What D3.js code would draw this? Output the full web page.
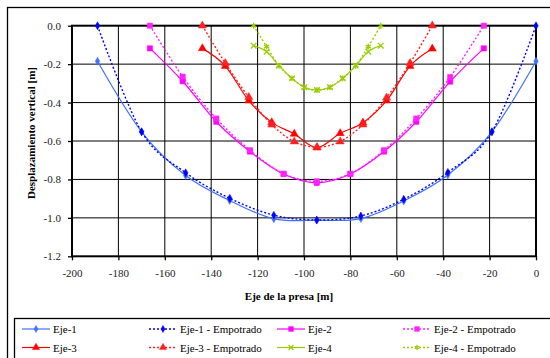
<!DOCTYPE html>
<html><head><meta charset="utf-8">
<script src="https://cdn.jsdelivr.net/npm/d3@7"></script>
<style>
html,body{margin:0;padding:0;background:#fff;}
svg{display:block;}
</style></head>
<body><svg id="c" width="550" height="358"></svg>
<script>
// ---- data ----
const xTicks = [-200,-180,-160,-140,-120,-100,-80,-60,-40,-20,0];
const yTicks = [0.0,-0.2,-0.4,-0.6,-0.8,-1.0,-1.2];
const seriesNames = ["Eje-1","Eje-1 - Empotrado","Eje-2","Eje-2 - Empotrado","Eje-3","Eje-3 - Empotrado","Eje-4","Eje-4 - Empotrado"];
const xEje1 = [-189,-170,-151,-132,-113,-94.5,-75.5,-57,-38,-19,0];
const yEje1 = [-0.185,-0.552,-0.78,-0.91,-1.005,-1.012,-1.004,-0.912,-0.777,-0.552,-0.185];
const yEje1Emp = [0,-0.552,-0.765,-0.898,-0.986,-1.011,-0.99,-0.903,-0.763,-0.552,0];
const xEje2 = [-166.4,-152.3,-137.8,-123.3,-108.8,-94.5,-80,-65.5,-51.6,-37,-22.5];
const yEje2 = [-0.118,-0.289,-0.5,-0.655,-0.772,-0.818,-0.772,-0.655,-0.5,-0.291,-0.118];
const yEje2Emp = [0,-0.265,-0.483,-0.648,-0.77,-0.81,-0.77,-0.648,-0.483,-0.267,0];
const xEje3 = [-143.8,-133.9,-123.8,-113.9,-104.2,-94.4,-84.4,-74.6,-64.4,-54.3,-44.7];
const yEje3 = [-0.118,-0.21,-0.39,-0.503,-0.563,-0.635,-0.56,-0.505,-0.39,-0.21,-0.12];
const yEje3Emp = [0,-0.195,-0.372,-0.515,-0.603,-0.632,-0.603,-0.515,-0.375,-0.195,0];
const xEje4 = [-121.7,-116.1,-110.8,-105.2,-99.9,-94.4,-88.8,-83.3,-77.7,-72.3,-66.9];
const yEje4 = [-0.104,-0.135,-0.208,-0.274,-0.32,-0.335,-0.32,-0.274,-0.208,-0.135,-0.104];
const yEje4Emp = [0,-0.109,-0.208,-0.274,-0.32,-0.335,-0.32,-0.274,-0.208,-0.109,0];

const FONT = "Liberation Serif";
const series = [
  {name:seriesNames[0], xs:xEje1, ys:yEje1,    color:"#3f72ff", dash:null,  sym:d3.symbolDiamond,  size:18, fill:true},
  {name:seriesNames[1], xs:xEje1, ys:yEje1Emp, color:"#0000ff", dash:"2,2", sym:d3.symbolDiamond,  size:18, fill:true},
  {name:seriesNames[2], xs:xEje2, ys:yEje2,    color:"#ff00ff", dash:null,  sym:d3.symbolSquare,   size:28, fill:true},
  {name:seriesNames[3], xs:xEje2, ys:yEje2Emp, color:"#ff22ff", dash:"2,2", sym:d3.symbolSquare,   size:28, fill:true},
  {name:seriesNames[4], xs:xEje3, ys:yEje3,    color:"#ff0000", dash:null,  sym:d3.symbolTriangle, size:28, fill:true},
  {name:seriesNames[5], xs:xEje3, ys:yEje3Emp, color:"#ff2020", dash:"2,2", sym:d3.symbolTriangle, size:28, fill:true},
  {name:seriesNames[6], xs:xEje4, ys:yEje4,    color:"#99cc00", dash:null,  sym:d3.symbolX,        size:22, fill:false},
  {name:seriesNames[7], xs:xEje4, ys:yEje4Emp, color:"#99cc00", dash:"2,2", sym:d3.symbolAsterisk, size:24, fill:false}
];

const svg = d3.select("#c");
const L = 72, R = 536, T = 25.7, B = 256.3;
const x = d3.scaleLinear().domain([-200,0]).range([L,R]);
const y = d3.scaleLinear().domain([-1.2,0]).range([B,T]);

// outer frame
svg.append("rect").attr("x",7.5).attr("y",7.5).attr("width",600).attr("height",400)
  .attr("fill","#fff").attr("stroke","#000").attr("stroke-width",1.3);

// gridlines
const g = svg.append("g");
g.selectAll("line.vx").data(xTicks.slice(1,-1)).join("line")
  .attr("x1",d=>x(d)).attr("x2",d=>x(d)).attr("y1",T).attr("y2",B)
  .attr("stroke","#000").attr("stroke-width",1);
g.selectAll("line.hy").data(yTicks.slice(1,-1)).join("line")
  .attr("y1",d=>y(d)).attr("y2",d=>y(d)).attr("x1",L).attr("x2",R)
  .attr("stroke","#000").attr("stroke-width",1);

// axes
const xAxis = d3.axisBottom(x).tickValues(xTicks).tickSize(4).tickPadding(9).tickFormat(d=>String(d));
const yAxis = d3.axisLeft(y).tickValues(yTicks).tickSize(4).tickPadding(7).tickFormat(d=>d.toFixed(1));
const gx = svg.append("g").attr("transform",`translate(0,${B})`).call(xAxis);
const gy = svg.append("g").attr("transform",`translate(${L},0)`).call(yAxis);
[gx,gy].forEach(a=>{
  a.select(".domain").remove();
  a.selectAll("line").attr("stroke","#000").attr("stroke-width",1.3);
  a.selectAll("text").style("font-family",FONT).style("font-size","11px").attr("fill","#222");
});

// plot border
svg.append("rect").attr("x",L).attr("y",T).attr("width",R-L).attr("height",B-T)
  .attr("fill","none").attr("stroke","#000").attr("stroke-width",2);

// series
const line = d3.line().curve(d3.curveCatmullRom.alpha(0)).x(d=>x(d[0])).y(d=>y(d[1]));
series.forEach(s=>{
  const pts = s.xs.map((v,i)=>[v,s.ys[i]]);
  svg.append("path").datum(pts).attr("d",line).attr("fill","none")
    .attr("stroke",s.color).attr("stroke-width",s.dash?1.4:1.2)
    .attr("stroke-dasharray",s.dash);
  svg.append("g").selectAll("path").data(pts).join("path")
    .attr("transform",d=>`translate(${x(d[0])},${y(d[1])})`)
    .attr("d",d3.symbol(s.sym,s.size))
    .attr("fill",s.fill?s.color:"none").attr("stroke",s.color).attr("stroke-width",s.fill?0.5:1.3);
});

// axis titles
svg.append("text").attr("x",289).attr("y",300).attr("text-anchor","middle").style("font-family",FONT)
  .style("font-size","11px").style("font-weight","bold").attr("fill","#000").text("Eje de la presa [m]");
svg.append("text").attr("transform","translate(35,133) rotate(-90)").attr("text-anchor","middle").style("font-family",FONT)
  .style("font-size","11px").style("font-weight","bold").attr("fill","#000").text("Desplazamiento vertical [m]");

// legend
svg.append("rect").attr("x",14.5).attr("y",318.5).attr("width",560).attr("height",60)
  .attr("fill","#fff").attr("stroke","#000").attr("stroke-width",1.3);
const colX = [22,149,277,403];
const rowY = [329,347.5];
series.forEach((s,i)=>{
  const pair = Math.floor(i/2), within = i%2;
  const row = (pair===0||pair===1)?0:1;
  const col = (pair%2)*2 + within;
  const lx = colX[col], ly = rowY[row];
  const lg = svg.append("g");
  lg.append("line").attr("x1",lx).attr("x2",lx+28).attr("y1",ly).attr("y2",ly)
    .attr("stroke",s.color).attr("stroke-width",s.dash?1.4:1.2).attr("stroke-dasharray",s.dash);
  lg.append("path").attr("transform",`translate(${lx+14},${ly})`).attr("d",d3.symbol(s.sym,s.size*0.8))
    .attr("fill",s.fill?s.color:"none").attr("stroke",s.color).attr("stroke-width",s.fill?0.5:1.2);
  lg.append("text").attr("x",lx+31).attr("y",ly+4).style("font-family",FONT).style("font-size","11px").attr("fill","#000").text(s.name);
});
</script></body></html>
